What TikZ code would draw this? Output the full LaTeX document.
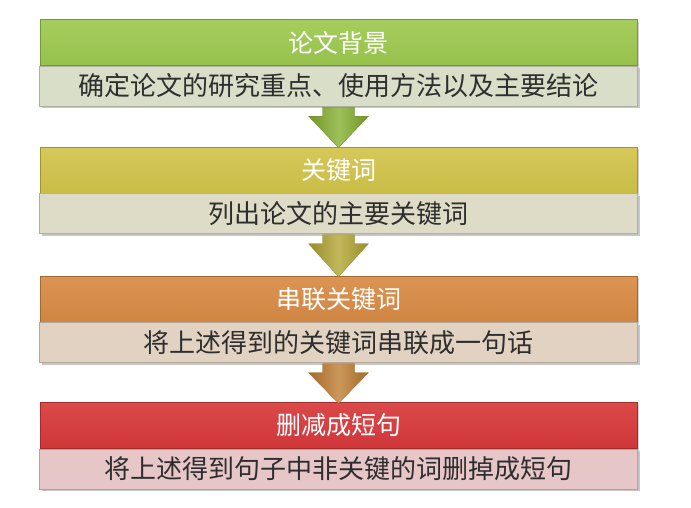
\documentclass[tikz,border=0pt]{standalone}
\usepackage{fontspec}
\setmainfont{Noto Sans CJK SC}
\usetikzlibrary{calc,shadows}
\definecolor{tA}{HTML}{9DC94F}
\definecolor{bA}{HTML}{D8DEC8}
\definecolor{aA}{HTML}{86B030}
\definecolor{tB}{HTML}{D2C44A}
\definecolor{bB}{HTML}{DEDBC6}
\definecolor{aB}{HTML}{B3A632}
\definecolor{tC}{HTML}{D98B45}
\definecolor{bC}{HTML}{E2D2C2}
\definecolor{aC}{HTML}{BF7D32}
\definecolor{tD}{HTML}{D8393B}
\definecolor{bD}{HTML}{E7C6C8}
\definecolor{txt}{HTML}{2E2E2E}
\tikzset{
  titlebar/.style={draw=#1!75!black, line width=0.5pt, top color=#1!92!white, bottom color=#1!96!black,
    minimum width=597pt, minimum height=46pt, inner sep=0pt, text=white,
    font=\fontsize{25}{25}\selectfont,
    drop shadow={shadow xshift=2pt, shadow yshift=-2pt, opacity=0.35}},
  bodybar/.style={draw=#1!80!black, line width=0.4pt, fill=#1,
    minimum width=598pt, minimum height=40pt, inner sep=0pt, text=txt,
    font=\fontsize{26}{26}\selectfont,
    drop shadow={shadow xshift=2pt, shadow yshift=-2.5pt, opacity=0.45}},
  downarrow/.style={left color=#1!85!black, right color=#1!85!black, middle color=#1!80!white,
    draw=#1!80!black, line width=0.3pt}
}
\begin{document}
\begin{tikzpicture}[x=1pt,y=-1pt]
\useasboundingbox (0,0) rectangle (691,507);
% box 1
\node[titlebar=tA] (t1) at (338.5,42.5) {论文背景};
\node[bodybar=bA, anchor=north] (b1) at (t1.south) {确定论文的研究重点、使用方法以及主要结论};
% box 2
\node[titlebar=tB] (t2) at (338.5,170) {关键词};
\node[bodybar=bB, anchor=north] (b2) at (t2.south) {列出论文的主要关键词};
% box 3
\node[titlebar=tC] (t3) at (338.5,299) {串联关键词};
\node[bodybar=bC, anchor=north] (b3) at (t3.south) {将上述得到的关键词串联成一句话};
% box 4
\node[titlebar=tD] (t4) at (338.5,425.5) {删减成短句};
\node[bodybar=bD, anchor=north] (b4) at (t4.south) {将上述得到句子中非关键的词删掉成短句};
% arrows
\foreach \a/\b/\c in {b1/t2/aA, b2/t3/aB, b3/t4/aC}{
  \path[downarrow=\c] ($(\a.south)+(-16,1)$) -- ($(\a.south)+(16,1)$) -- ($(\a.south)+(16,10)$)
    -- ($(\a.south)+(30,10)$) -- ($(\b.north)+(0,1)$) -- ($(\a.south)+(-30,10)$)
    -- ($(\a.south)+(-16,10)$) -- cycle;
}
\end{tikzpicture}
\end{document}
